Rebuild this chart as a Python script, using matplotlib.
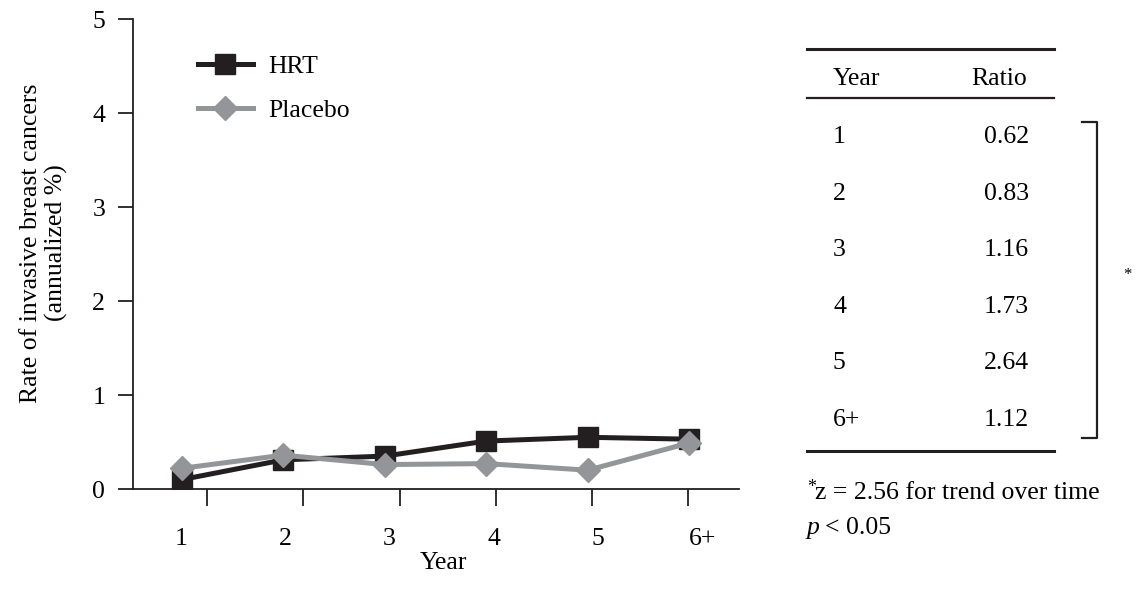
import matplotlib
matplotlib.use('Agg')
import matplotlib.pyplot as plt
import numpy as np

plt.rcParams['font.family'] = ['Liberation Serif', 'DejaVu Serif']

# annualized rate of invasive breast cancer per year of follow-up
years = ['1', '2', '3', '4', '5', '6+']
hrt = [0.10, 0.31, 0.35, 0.51, 0.55, 0.53]
placebo = [0.22, 0.36, 0.26, 0.27, 0.20, 0.49]

# hazard ratio table
table_years = ['1', '2', '3', '4', '5', '6+']
ratios = ['0.62', '0.83', '1.16', '1.73', '2.64', '1.12']

DARK = '#231f20'
GREY = '#939598'
FS = 18.5

fig = plt.figure(figsize=(11.39, 6.01), dpi=100)
ax = fig.add_axes([133 / 1139, 1 - 489 / 601, 606 / 1139, 470 / 601])

x = np.arange(1, len(years) + 1)
ax.plot(x, hrt, color=DARK, lw=3.6, marker='s', ms=14, mfc=DARK, mec=DARK,
        label='HRT', zorder=3)
ax.plot(x, placebo, color=GREY, lw=3.6, marker='D', ms=12.5, mfc=GREY, mec=GREY,
        label='Placebo', zorder=4)

ax.set_xlim(0.52, 6.49)
ax.set_ylim(0, 5)

for side in ['top', 'right']:
    ax.spines[side].set_visible(False)
for side in ['left', 'bottom']:
    ax.spines[side].set_linewidth(1.3)
    ax.spines[side].set_color(DARK)

ax.set_yticks(range(6))
ax.tick_params(axis='y', direction='out', length=11, width=1.3, color=DARK,
               labelsize=FS, pad=9)

# labels sit slightly apart from the tick marks on this axis
ax.set_xticks(np.linspace(0.99, 6.13, 6))
ax.set_xticklabels(years)
ax.tick_params(axis='x', which='major', length=0, labelsize=FS, pad=28)
ax.set_xticks(np.linspace(1.25, 5.99, 6), minor=True)
ax.tick_params(axis='x', which='minor', direction='out', length=12, width=1.3,
               color=DARK)

fig.text(443 / 1139, 1 - 563 / 601, 'Year', ha='center', va='center', fontsize=FS)
fig.text(44 / 1139, 1 - 243 / 601,
         'Rate of invasive breast cancers\n(annualized %)',
         ha='center', va='center', rotation=90, fontsize=FS, linespacing=1.15)

ax.legend(loc='upper left', bbox_to_anchor=(0.09, 0.945), frameon=False,
          fontsize=FS, handlelength=2.15, handletextpad=0.6, labelspacing=0.8,
          borderaxespad=0)

# table of ratios on the right
def fx(px):
    return px / 1139

def fy(py):
    return 1 - py / 601

for yy, lw in [(49, 2.2), (98, 1.6), (451, 2.2)]:
    fig.add_artist(plt.Line2D([fx(807), fx(1054)], [fy(yy), fy(yy)],
                              color=DARK, lw=lw))

fig.text(fx(856), fy(79), 'Year', ha='center', va='center', fontsize=FS)
fig.text(fx(1027), fy(79), 'Ratio', ha='right', va='center', fontsize=FS)

row_y = np.linspace(137, 420, len(table_years))
for yy, yr, r in zip(row_y, table_years, ratios):
    fig.text(fx(833), fy(yy), yr, ha='left', va='center', fontsize=FS)
    fig.text(fx(1029), fy(yy), r, ha='right', va='center', fontsize=FS)

# bracket for the trend test
fig.add_artist(plt.Line2D([fx(1082), fx(1097), fx(1097), fx(1082)],
                          [fy(122), fy(122), fy(438), fy(438)],
                          color=DARK, lw=1.6))
fig.text(fx(1127), fy(275), '*', ha='center', va='center', fontsize=12)

fig.text(fx(807), fy(487), '*', ha='left', va='center', fontsize=13)
fig.text(fx(815), fy(493), 'z = 2.56 for trend over time', ha='left', va='center',
         fontsize=FS)
fig.text(fx(807), fy(528), 'p', ha='left', va='center', fontsize=FS,
         fontstyle='italic')
fig.text(fx(825), fy(528), '< 0.05', ha='left', va='center', fontsize=FS)

fig.savefig('out.png', dpi=100)
